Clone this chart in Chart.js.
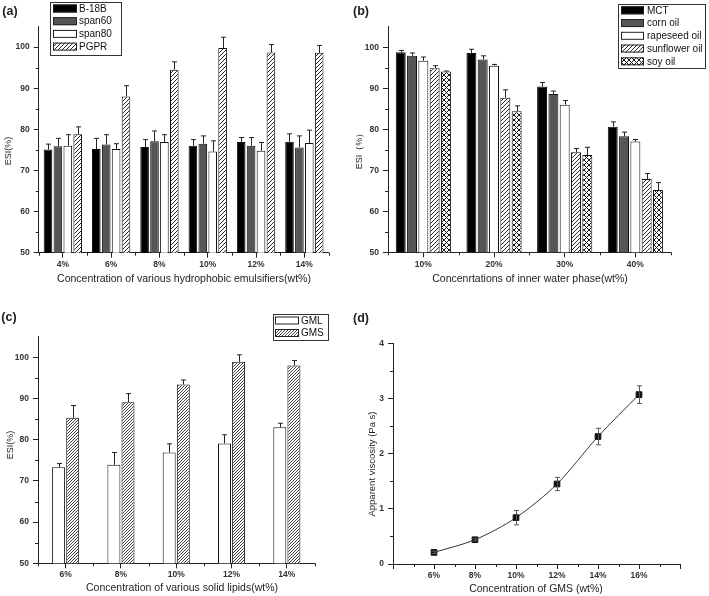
<!DOCTYPE html>
<html>
<head>
<meta charset="utf-8">
<script src="https://cdn.jsdelivr.net/npm/chart.js@4.4.1/dist/chart.umd.min.js"></script>
<style>
  body { margin: 0; background: #fff; width: 709px; height: 596px; position: relative; overflow: hidden;
         font-family: 'Liberation Sans', Arial, sans-serif; color: #222; }
  .panel { position: absolute; }
  .lbl { position: absolute; font-weight: bold; font-size: 12.5px; transform: translate(-50%, -50%); }
  .xt { position: absolute; font-size: 10.5px; white-space: nowrap; transform: translate(-50%, -50%); }
  .yt { position: absolute; font-size: 9px; white-space: nowrap; transform: translate(-50%, -50%) rotate(-90deg); }
</style>
</head>
<body>
<canvas class="panel" id="ca" width="354" height="300" style="left:0;top:0"></canvas>
<canvas class="panel" id="cb" width="355" height="300" style="left:354px;top:0"></canvas>
<canvas class="panel" id="cc" width="354" height="296" style="left:0;top:300px"></canvas>
<canvas class="panel" id="cd" width="355" height="296" style="left:354px;top:300px"></canvas>

<div class="lbl" style="left:10px;top:11px">(a)</div>
<div class="lbl" style="left:361px;top:11px">(b)</div>
<div class="lbl" style="left:9px;top:317px">(c)</div>
<div class="lbl" style="left:361px;top:318px">(d)</div>

<div class="xt" style="left:184px;top:278px">Concentration of various hydrophobic emulsifiers(wt%)</div>
<div class="xt" style="left:530px;top:278px">Concenrtations of inner water phase(wt%)</div>
<div class="xt" style="left:182px;top:587px">Concentration of various solid lipids(wt%)</div>
<div class="xt" style="left:536px;top:588px">Concentration of GMS (wt%)</div>

<div class="yt" style="left:8px;top:151px">ESI(%)</div>
<div class="yt" style="left:359px;top:149px">ESI（%）</div>
<div class="yt" style="left:10px;top:445px">ESI(%)</div>
<div class="yt" style="left:371px;top:464px;font-size:9.5px">Apparent viscosity (Pa s)</div>

<script>
// (a) hydrophobic emulsifiers
const aLabels = ['4%', '6%', '8%', '10%', '12%', '14%'];
const aB18B = [75.1, 75.2, 75.7, 76.0, 76.9, 77.0];
const aB18BErr = [1.3, 2.6, 1.8, 1.5, 1.1, 1.9];
const aSpan60 = [75.9, 76.3, 77.1, 76.5, 76.0, 75.6];
const aSpan60Err = [1.9, 2.4, 2.5, 1.9, 2.0, 2.8];
const aSpan80 = [76.0, 75.2, 76.9, 74.6, 74.8, 76.7];
const aSpan80Err = [2.7, 1.3, 1.8, 2.6, 2.0, 3.1];
const aPGPR = [78.8, 88.0, 94.5, 99.8, 98.7, 98.6];
const aPGPRErr = [1.8, 2.6, 1.9, 2.6, 1.9, 1.8];

// (b) inner water phase
const bLabels = ['10%', '20%', '30%', '40%'];
const bMCT = [98.8, 98.6, 90.4, 80.6];
const bMCTErr = [0.4, 0.9, 1.0, 1.2];
const bCorn = [97.9, 97.0, 88.6, 78.3];
const bCornErr = [0.7, 0.9, 0.7, 1.0];
const bRapeseed = [96.7, 95.5, 86.0, 77.0];
const bRapeseedErr = [0.9, 0.3, 1.0, 0.5];
const bSunflower = [94.9, 87.7, 74.4, 67.9];
const bSunflowerErr = [0.6, 1.9, 0.9, 1.3];
const bSoy = [94.1, 84.4, 73.7, 65.2];
const bSoyErr = [0.1, 1.3, 1.9, 1.8];

// (c) solid lipids
const cLabels = ['6%', '8%', '10%', '12%', '14%'];
const cGML = [73.3, 73.9, 76.9, 79.1, 83.0];
const cGMLErr = [0.9, 3.0, 2.1, 2.1, 1.0];
const cGMS = [85.3, 89.1, 93.4, 98.9, 98.0];
const cGMSErr = [3.0, 2.1, 1.1, 1.7, 1.2];

// (d) viscosity vs GMS
const dConc = [6, 8, 10, 12, 14, 16];
const dVisc = [0.21, 0.44, 0.84, 1.45, 2.31, 3.07];
const dViscErr = [0.02, 0.02, 0.13, 0.12, 0.15, 0.16];

const FONT = "'Liberation Sans', Arial, sans-serif";
const INK = '#222';

function hatch(size, lw, cross) {
  const c = document.createElement('canvas');
  c.width = c.height = size;
  const g = c.getContext('2d');
  g.fillStyle = '#fff';
  g.fillRect(0, 0, size, size);
  g.strokeStyle = '#111';
  g.lineWidth = lw;
  g.beginPath();
  for (let k = -1; k <= 1; k++) {
    g.moveTo(k * size, size); g.lineTo(k * size + size, 0);
    if (cross) { g.moveTo(k * size, 0); g.lineTo(k * size + size, size); }
  }
  g.stroke();
  return g.createPattern(c, 'repeat');
}

// error bars, drawn from the library's scales
const errorBars = {
  id: 'errorBars',
  afterDatasetsDraw(chart) {
    const ctx = chart.ctx;
    chart.data.datasets.forEach((ds, i) => {
      if (!ds.errors) return;
      const meta = chart.getDatasetMeta(i);
      const ys = chart.scales[meta.yAxisID];
      ctx.save();
      ctx.strokeStyle = ds.errorColor || INK;
      ctx.lineWidth = 1;
      meta.data.forEach((el, j) => {
        const v = typeof ds.data[j] === 'object' ? ds.data[j].y : ds.data[j];
        const x = Math.round(el.x) + 0.5;
        const top = ys.getPixelForValue(v + ds.errors[j]);
        const bot = ds.bothWays ? ys.getPixelForValue(v - ds.errors[j]) : el.y;
        const cap = 2.5;
        ctx.beginPath();
        ctx.moveTo(x, bot); ctx.lineTo(x, top);
        ctx.moveTo(x - cap, top); ctx.lineTo(x + cap, top);
        if (ds.bothWays) { ctx.moveTo(x - cap, bot); ctx.lineTo(x + cap, bot); }
        ctx.stroke();
      });
      ctx.restore();
    });
  }
};

// Origin-style framed legend
const boxLegend = {
  id: 'boxLegend',
  afterDraw(chart, args, o) {
    if (!o.w) return;
    const ctx = chart.ctx;
    ctx.save();
    ctx.fillStyle = '#fff';
    ctx.fillRect(o.x, o.y, o.w, o.h);
    ctx.strokeStyle = '#333';
    ctx.lineWidth = 1;
    ctx.strokeRect(o.x + 0.5, o.y + 0.5, o.w, o.h);
    ctx.font = '10px ' + FONT;
    ctx.textBaseline = 'middle';
    chart.data.datasets.forEach((ds, i) => {
      const cy = o.y + o.first + i * o.row;
      ctx.fillStyle = ds.backgroundColor;
      ctx.fillRect(o.x + o.sx, cy - 4, o.sw, 8);
      ctx.strokeStyle = '#222';
      ctx.strokeRect(o.x + o.sx + 0.5, cy - 3.5, o.sw - 1, 7);
      ctx.fillStyle = '#111';
      ctx.fillText(ds.label, o.x + o.tx, cy + 0.5);
    });
    ctx.restore();
  }
};

// short minor ticks
const minorTicks = {
  id: 'minorTicks',
  afterDraw(chart, args, o) {
    const ctx = chart.ctx;
    const a = chart.chartArea;
    ctx.save();
    ctx.strokeStyle = INK;
    ctx.lineWidth = 1;
    ctx.beginPath();
    (o.xs || []).forEach(v => {
      const px = Math.round(chart.scales.x.getPixelForValue(v)) + 0.5;
      ctx.moveTo(px, a.bottom); ctx.lineTo(px, a.bottom + 3);
    });
    (o.ys || []).forEach(v => {
      const py = Math.round(chart.scales.y.getPixelForValue(v)) + 0.5;
      ctx.moveTo(a.left, py); ctx.lineTo(a.left - 3, py);
    });
    ctx.stroke();
    ctx.restore();
  }
};

function tickFont() { return { family: FONT, size: 8.5, weight: 'bold' }; }

function barChart(id, labels, sets, c) {
  const xs = [];
  for (let i = 0; i <= labels.length; i++) xs.push(i - 0.5);
  const ys = [];
  for (let v = 55; v < 105; v += 10) ys.push(v);
  sets.forEach(s => {
    s.borderColor = '#111';
    s.borderWidth = 1;
    s.categoryPercentage = c.cat;
    s.barPercentage = c.bar;
  });
  return new Chart(document.getElementById(id), {
    type: 'bar',
    data: { labels: labels, datasets: sets },
    plugins: [errorBars, boxLegend, minorTicks],
    options: {
      responsive: false,
      animation: false,
      layout: { padding: { left: 0, top: c.top, right: c.right, bottom: 0 } },
      plugins: {
        legend: { display: false },
        tooltip: { enabled: false },
        boxLegend: c.legend,
        minorTicks: { xs: xs, ys: ys }
      },
      scales: {
        x: {
          grid: { drawOnChartArea: false, offset: false, tickLength: 5, color: INK },
          border: { color: INK, width: 1 },
          ticks: { font: tickFont(), color: '#333', padding: c.xpad, maxRotation: 0 },
          afterFit(s) { s.height = c.xh; }
        },
        y: {
          min: 50, max: 105,
          grid: { drawOnChartArea: false, tickLength: 5, color: INK },
          border: { color: INK, width: 1 },
          ticks: { font: tickFont(), color: '#333', stepSize: 10, padding: 4 },
          afterBuildTicks(s) { s.ticks = s.ticks.filter(t => t.value % 10 === 0); },
          afterFit(s) { s.width = c.yw; }
        }
      }
    }
  });
}

barChart('ca', aLabels, [
  { label: 'B-18B', data: aB18B, errors: aB18BErr, backgroundColor: '#000' },
  { label: 'span60', data: aSpan60, errors: aSpan60Err, backgroundColor: '#555' },
  { label: 'span80', data: aSpan80, errors: aSpan80Err, backgroundColor: '#fff' },
  { label: 'PGPR', data: aPGPR, errors: aPGPRErr, backgroundColor: hatch(4, 0.9) }
], { top: 26.5, right: 25.5, yw: 38.7, xh: 47.3, xpad: 2, cat: 0.82, bar: 0.87,
     legend: { x: 50, y: 2, w: 71, h: 53, first: 6.5, row: 12.7, sx: 3, sw: 24, tx: 29 } });

barChart('cb', bLabels, [
  { label: 'MCT', data: bMCT, errors: bMCTErr, backgroundColor: '#000' },
  { label: 'corn oil', data: bCorn, errors: bCornErr, backgroundColor: '#555' },
  { label: 'rapeseed oil', data: bRapeseed, errors: bRapeseedErr, backgroundColor: '#fff' },
  { label: 'sunflower oil', data: bSunflower, errors: bSunflowerErr, backgroundColor: hatch(4, 0.9) },
  { label: 'soy oil', data: bSoy, errors: bSoyErr, backgroundColor: hatch(5, 1, true) }
], { top: 26.7, right: 38.3, yw: 34, xh: 47.7, xpad: 2.5, cat: 0.8, bar: 0.88,
     legend: { x: 264, y: 4, w: 87, h: 64, first: 6.3, row: 12.75, sx: 3, sw: 23, tx: 29 } });

barChart('cc', cLabels, [
  { label: 'GML', data: cGML, errors: cGMLErr, backgroundColor: '#fff' },
  { label: 'GMS', data: cGMS, errors: cGMSErr, backgroundColor: hatch(3, 0.8) }
], { top: 36.7, right: 39.5, yw: 38, xh: 32.7, xpad: 1, cat: 0.51, bar: 0.92,
     legend: { x: 273, y: 14, w: 55, h: 26, first: 6.5, row: 12.5, sx: 2, sw: 24, tx: 28 } });

// (d) line with error bars
const dMinorX = [];
for (let v = 5; v < 18; v += 2) dMinorX.push(v);
const dMinorY = [];
for (let v = 0.5; v < 4; v += 1) dMinorY.push(v);

new Chart(document.getElementById('cd'), {
  type: 'line',
  data: {
    datasets: [{
      label: 'viscosity',
      data: dConc.map((x, i) => ({ x: x, y: dVisc[i] })),
      errors: dViscErr, bothWays: true, errorColor: '#555',
      borderColor: '#333', borderWidth: 1, tension: 0.3,
      pointStyle: 'rect', pointRadius: 4,
      pointBackgroundColor: '#111', pointBorderColor: '#111'
    }]
  },
  plugins: [errorBars, minorTicks],
  options: {
    responsive: false,
    animation: false,
    layout: { padding: { left: 0, top: 43.3, right: 29, bottom: 0 } },
    plugins: { legend: { display: false }, tooltip: { enabled: false }, minorTicks: { xs: dMinorX, ys: dMinorY } },
    scales: {
      x: {
        type: 'linear', min: 4, max: 18,
        grid: { drawOnChartArea: false, tickLength: 5, color: INK },
        border: { color: INK, width: 1 },
        ticks: { font: tickFont(), color: '#333', stepSize: 2, padding: 1.5,
                 callback: v => (v >= 6 && v <= 16) ? v + '%' : '' },
        afterFit(s) { s.height = 32; }
      },
      y: {
        min: 0, max: 4,
        grid: { drawOnChartArea: false, tickLength: 5, color: INK },
        border: { color: INK, width: 1 },
        ticks: { font: tickFont(), color: '#333', stepSize: 1, padding: 4 },
        afterFit(s) { s.width = 39; }
      }
    }
  }
});
</script>
</body>
</html>
